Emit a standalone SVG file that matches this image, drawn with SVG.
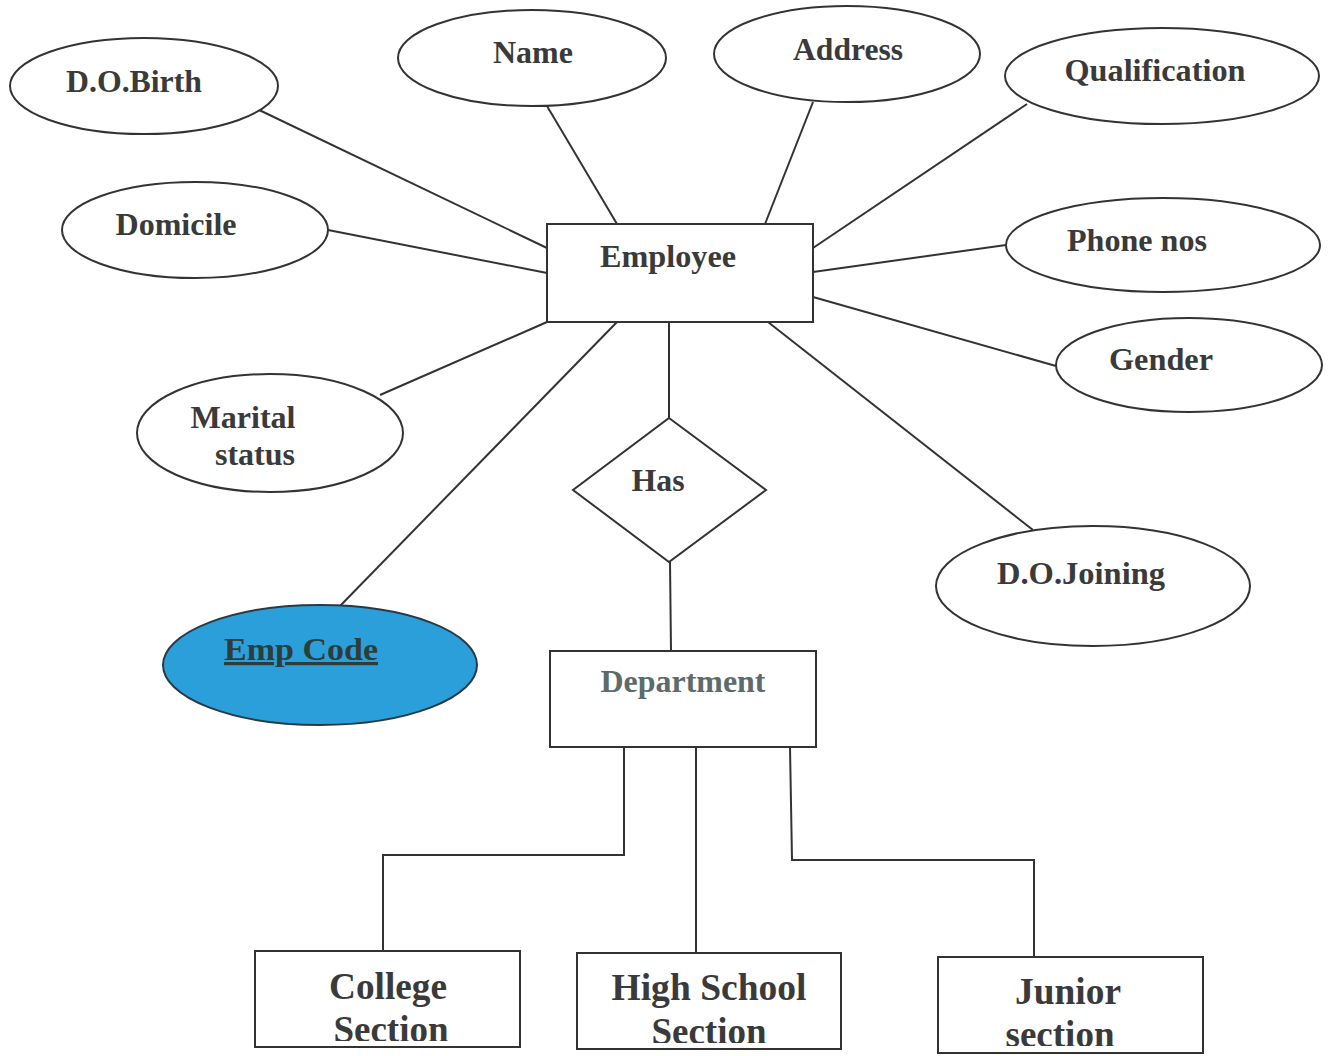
<svg xmlns="http://www.w3.org/2000/svg" width="1336" height="1056" viewBox="0 0 1336 1056">
<style>
.shape{fill:#fff;stroke:#333;stroke-width:2}
.key{fill:#2b9fd9;stroke:#2a3a44;stroke-width:2}
.lbl{font-family:"Liberation Serif","Times New Roman",serif;font-weight:bold;font-size:32px;fill:#3a3a3a;text-anchor:middle}
.big{font-size:38px}
.dept{fill:#5d6b6b}
.conn{fill:none;stroke:#333;stroke-width:2}
</style>
<defs>
<clipPath id="c1"><rect x="255" y="951" width="265" height="90"/></clipPath>
<clipPath id="c2"><rect x="577" y="953" width="264" height="90"/></clipPath>
<clipPath id="c3"><rect x="938" y="957" width="265" height="89"/></clipPath>
</defs>
<rect width="1336" height="1056" fill="#fff"/>
<g id="connectors">
<line class="conn" x1="255" y1="108" x2="547" y2="248"/>
<line class="conn" x1="547" y1="106" x2="617" y2="224"/>
<line class="conn" x1="813" y1="102" x2="765" y2="224"/>
<line class="conn" x1="1027" y1="104" x2="813" y2="248"/>
<line class="conn" x1="328" y1="230" x2="547" y2="273"/>
<line class="conn" x1="1006" y1="245" x2="813" y2="272"/>
<line class="conn" x1="1056" y1="366" x2="813" y2="297"/>
<line class="conn" x1="380" y1="395" x2="547" y2="322"/>
<line class="conn" x1="340" y1="606" x2="617" y2="322"/>
<line class="conn" x1="1033" y1="530" x2="768" y2="322"/>
<line class="conn" x1="669" y1="322" x2="669" y2="418"/>
<line class="conn" x1="670" y1="562" x2="671" y2="651"/>
<polyline class="conn" points="624,747 624,855 383,855 383,951"/>
<line class="conn" x1="696" y1="747" x2="696" y2="953"/>
<polyline class="conn" points="790,747 792,860 1034,860 1034,957"/>
</g>
<g id="dob"><ellipse class="shape" cx="144" cy="86" rx="134" ry="48"/><text class="lbl" x="134" y="92" textLength="136" lengthAdjust="spacingAndGlyphs">D.O.Birth</text></g>
<g id="name"><ellipse class="shape" cx="532" cy="58" rx="134" ry="48"/><text class="lbl" x="533" y="63" textLength="80" lengthAdjust="spacingAndGlyphs">Name</text></g>
<g id="address"><ellipse class="shape" cx="847" cy="54" rx="133" ry="48"/><text class="lbl" x="848" y="60" textLength="110" lengthAdjust="spacingAndGlyphs">Address</text></g>
<g id="qualification"><ellipse class="shape" cx="1162" cy="76" rx="157" ry="48"/><text class="lbl" x="1155" y="81" textLength="181" lengthAdjust="spacingAndGlyphs">Qualification</text></g>
<g id="domicile"><ellipse class="shape" cx="195" cy="230" rx="133" ry="48"/><text class="lbl" x="176" y="235" textLength="121" lengthAdjust="spacingAndGlyphs">Domicile</text></g>
<g id="phone"><ellipse class="shape" cx="1163" cy="245" rx="157" ry="47"/><text class="lbl" x="1137" y="251" textLength="140" lengthAdjust="spacingAndGlyphs">Phone nos</text></g>
<g id="gender"><ellipse class="shape" cx="1189" cy="365" rx="133" ry="47"/><text class="lbl" x="1161" y="370" textLength="104" lengthAdjust="spacingAndGlyphs">Gender</text></g>
<g id="marital"><ellipse class="shape" cx="270" cy="433" rx="133" ry="59"/><text class="lbl" x="243" y="428" textLength="105" lengthAdjust="spacingAndGlyphs">Marital</text><text class="lbl" x="255" y="465" textLength="80" lengthAdjust="spacingAndGlyphs">status</text></g>
<g id="dojoining"><ellipse class="shape" cx="1093" cy="586" rx="157" ry="60"/><text class="lbl" x="1081" y="584" textLength="168" lengthAdjust="spacingAndGlyphs">D.O.Joining</text></g>
<g id="empcode"><ellipse class="key" cx="320" cy="665" rx="157" ry="60"/><text class="lbl" x="301" y="660" textLength="154" lengthAdjust="spacingAndGlyphs" style="fill:#2e3d3a;text-decoration:underline">Emp Code</text></g>
<g id="employee"><rect class="shape" x="547" y="224" width="266" height="98"/><text class="lbl" x="668" y="267" textLength="136" lengthAdjust="spacingAndGlyphs">Employee</text></g>
<g id="has"><polygon class="shape" points="669,418 766,490 669,562 573,490"/><text class="lbl" x="658" y="491" textLength="53" lengthAdjust="spacingAndGlyphs">Has</text></g>
<g id="department"><rect class="shape" x="550" y="651" width="266" height="96"/><text class="lbl dept" x="683" y="692" textLength="165" lengthAdjust="spacingAndGlyphs">Department</text></g>
<g id="college"><rect class="shape" x="255" y="951" width="265" height="96"/><g clip-path="url(#c1)"><text class="lbl big" x="388" y="999" textLength="118" lengthAdjust="spacingAndGlyphs">College</text><text class="lbl big" x="391" y="1042" textLength="115" lengthAdjust="spacingAndGlyphs">Section</text></g></g>
<g id="highschool"><rect class="shape" x="577" y="953" width="264" height="96"/><g clip-path="url(#c2)"><text class="lbl big" x="709" y="1000" textLength="195" lengthAdjust="spacingAndGlyphs">High School</text><text class="lbl big" x="709" y="1044" textLength="115" lengthAdjust="spacingAndGlyphs">Section</text></g></g>
<g id="junior"><rect class="shape" x="938" y="957" width="265" height="96"/><g clip-path="url(#c3)"><text class="lbl big" x="1068" y="1004" textLength="106" lengthAdjust="spacingAndGlyphs">Junior</text><text class="lbl big" x="1060" y="1047" textLength="109" lengthAdjust="spacingAndGlyphs">section</text></g></g>
</svg>
